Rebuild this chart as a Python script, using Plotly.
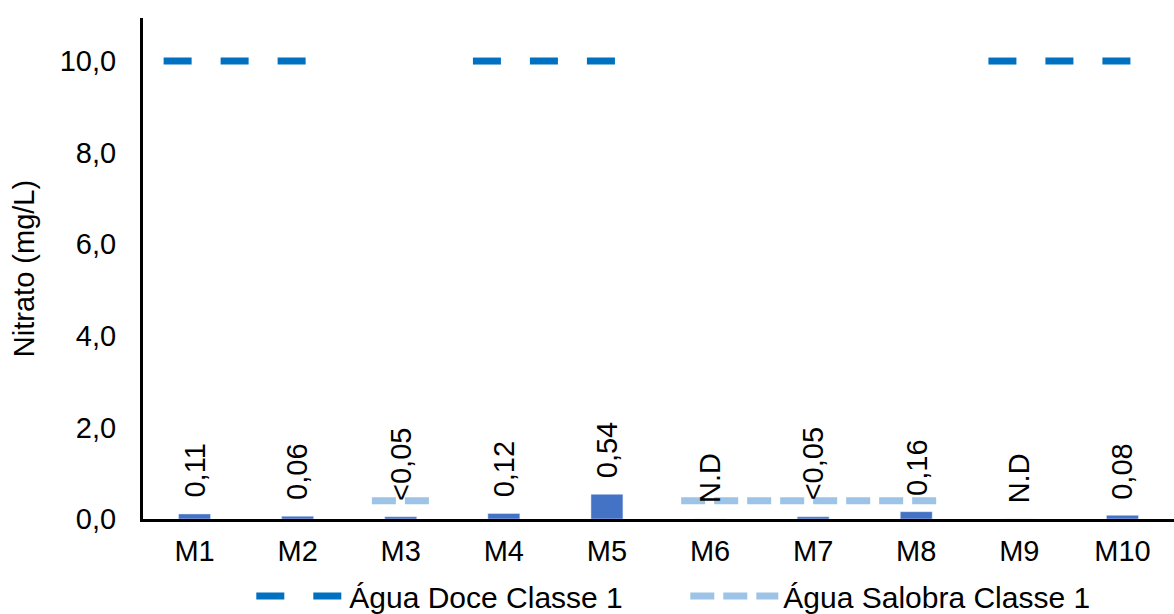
import plotly.graph_objects as go

samples = ["M1", "M2", "M3", "M4", "M5", "M6", "M7", "M8", "M9", "M10"]
nitrate = [0.11, 0.06, 0.05, 0.12, 0.54, 0.0, 0.05, 0.16, 0.0, 0.08]
labels = ["0,11", "0,06", "<0,05", "0,12", "0,54", "N.D", "<0,05", "0,16", "N.D", "0,08"]
limit_doce = [10, 10, None, 10, 10, None, None, None, 10, 10]
limit_salobra = [None, None, 0.4, None, None, 0.4, 0.4, 0.4, None, None]
y_ticks = [0, 2, 4, 6, 8, 10]

FONT = "Liberation Sans, Arial, sans-serif"
pos = list(range(1, len(samples) + 1))


def runs(values, ext=0.3):
    xs, ys = [], []
    i = 0
    n = len(values)
    while i < n:
        if values[i] is None:
            i += 1
            continue
        j = i
        while j + 1 < n and values[j + 1] is not None:
            j += 1
        xs += [pos[i] - ext, pos[j] + ext, None]
        ys += [values[i], values[j], None]
        i = j + 1
    return xs, ys


fig = go.Figure()
fig.add_trace(go.Bar(x=pos, y=nitrate, width=0.31, marker_color="#4472C4",
                     showlegend=False, hoverinfo="skip"))

dx, dy = runs(limit_doce)
fig.add_trace(go.Scatter(x=dx, y=dy, mode="lines", name="Água Doce Classe 1",
                         line=dict(color="#0070C0", width=7, dash="28px,29px")))
sx, sy = runs(limit_salobra, ext=0.28)
fig.add_trace(go.Scatter(x=sx, y=sy, mode="lines", name="Água Salobra Classe 1",
                         line=dict(color="#9DC3E6", width=7, dash="24px,9px")))

for p, v, t in zip(pos, nitrate, labels):
    fig.add_annotation(x=p, y=v, text=t, textangle=-90, showarrow=False,
                       yanchor="bottom", yshift=14,
                       font=dict(family=FONT, size=29, color="#000000"))

fig.update_layout(
    width=1174, height=614,
    margin=dict(l=143, r=0, t=18, b=95, autoexpand=False),
    paper_bgcolor="white", plot_bgcolor="white",
    separators=",.",
    font=dict(family=FONT, size=29, color="#000000"),
    showlegend=True,
    legend=dict(orientation="h", x=0.526, xanchor="center", y=-0.102, yanchor="top",
                font=dict(family=FONT, size=30), itemwidth=88, entrywidth=331,
                bgcolor="rgba(0,0,0,0)"),
    xaxis=dict(range=[0.5, 10.5], tickvals=pos, ticktext=samples,
               showline=True, linecolor="#000000", linewidth=3,
               showgrid=False, zeroline=False, ticks="outside", ticklen=4,
               tickcolor="rgba(0,0,0,0)", automargin=False),
    yaxis=dict(range=[0, 10.94], tickvals=y_ticks, tickformat=".1f",
               showline=True, linecolor="#000000", linewidth=3,
               showgrid=False, zeroline=False, ticks="outside", ticklen=18,
               tickcolor="rgba(0,0,0,0)", automargin=False,
               title=dict(text="Nitrato (mg/L)", standoff=17,
                          font=dict(family=FONT, size=29))),
)

fig.write_html("out.html", config={"displayModeBar": False},
               post_script="document.body.style.margin='0';document.body.style.overflow='hidden';")
